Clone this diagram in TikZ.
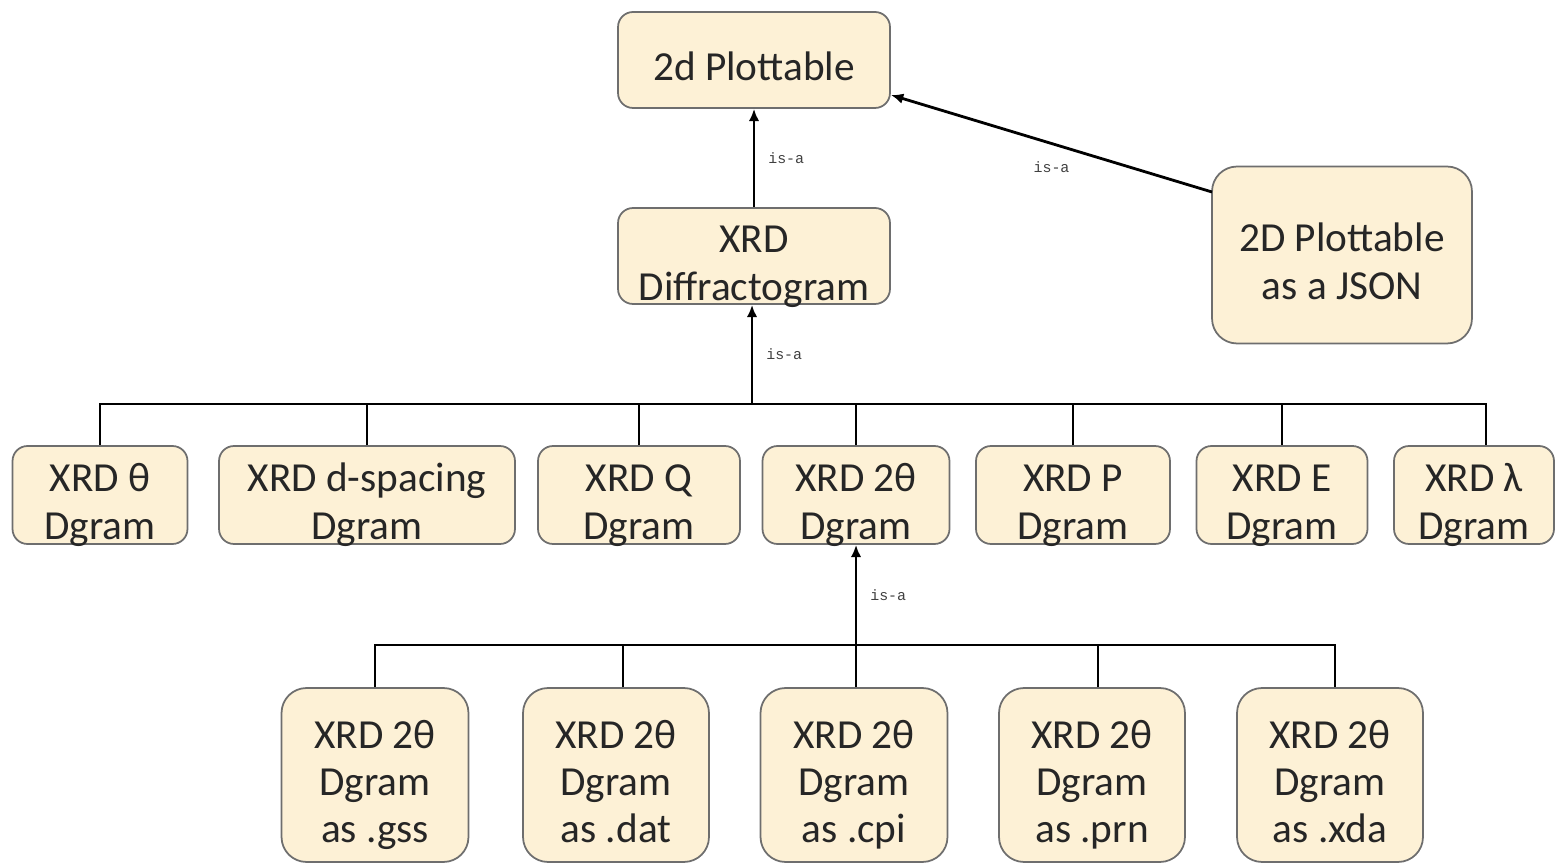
\documentclass[tikz,border=0pt]{standalone}
\usepackage{fontspec}
\setmainfont{Carlito}
\newfontfamily\isafont{Liberation Mono}
\usetikzlibrary{arrows.meta, calc}

\definecolor{boxfill}{HTML}{FDF1D6}
\definecolor{boxline}{HTML}{6E6E6E}
\definecolor{txt}{HTML}{262626}

% box text, set a little low as in the original
\newcommand{\boxtext}[1]{\raisebox{-0.22cm}[\height][\depth]{\begin{tabular}{@{}c@{}}#1\end{tabular}}}

\tikzset{
    dbox/.style={draw=boxline, fill=boxfill, rounded corners=0.3cm, line width=1pt,
        text=txt, font=\fontsize{23.5}{27}\selectfont, inner sep=0pt},
    isa/.style={font=\isafont\fontsize{8.5}{9}\selectfont, text=black!75},
    link/.style={line width=1.6pt, -{Latex[length=7pt, width=6pt]}},
    tree/.style={line width=1.6pt}
}

\begin{document}
\begin{tikzpicture}[x=0.02cm, y=-0.02cm]
    \useasboundingbox (0,0) rectangle (1556,864);

    % top
    \node[dbox, minimum width=5.44cm, minimum height=1.92cm] (plot) at (754,60) {\boxtext{2d Plottable}};
    \node[dbox, minimum width=5.44cm, minimum height=1.92cm] (diff) at (754,256) {\boxtext{XRD\\Diffractogram}};
    \node[dbox, minimum width=5.2cm, minimum height=3.54cm, rounded corners=0.5cm] (json) at (1342,255) {\boxtext{2D Plottable\\as a JSON}};

    % second row
    \node[dbox, minimum width=3.5cm, minimum height=1.96cm] (theta) at (100,495) {\boxtext{XRD θ\\Dgram}};
    \node[dbox, minimum width=5.92cm, minimum height=1.96cm] (dsp) at (367,495) {\boxtext{XRD d-spacing\\Dgram}};
    \node[dbox, minimum width=4.04cm, minimum height=1.96cm] (q) at (639,495) {\boxtext{XRD Q\\Dgram}};
    \node[dbox, minimum width=3.74cm, minimum height=1.96cm] (tth) at (856,495) {\boxtext{XRD 2θ\\Dgram}};
    \node[dbox, minimum width=3.88cm, minimum height=1.96cm] (p) at (1073,495) {\boxtext{XRD P\\Dgram}};
    \node[dbox, minimum width=3.42cm, minimum height=1.96cm] (e) at (1282,495) {\boxtext{XRD E\\Dgram}};
    \node[dbox, minimum width=3.2cm, minimum height=1.96cm] (lam) at (1474,495) {\boxtext{XRD λ\\Dgram}};

    % third row
    \node[dbox, minimum width=3.74cm, minimum height=3.48cm, rounded corners=0.5cm] (gss) at (375,775) {\boxtext{XRD 2θ\\Dgram\\as .gss}};
    \node[dbox, minimum width=3.72cm, minimum height=3.48cm, rounded corners=0.5cm] (dat) at (616,775) {\boxtext{XRD 2θ\\Dgram\\as .dat}};
    \node[dbox, minimum width=3.74cm, minimum height=3.48cm, rounded corners=0.5cm] (cpi) at (854,775) {\boxtext{XRD 2θ\\Dgram\\as .cpi}};
    \node[dbox, minimum width=3.72cm, minimum height=3.48cm, rounded corners=0.5cm] (prn) at (1092,775) {\boxtext{XRD 2θ\\Dgram\\as .prn}};
    \node[dbox, minimum width=3.72cm, minimum height=3.48cm, rounded corners=0.5cm] (xda) at (1330,775) {\boxtext{XRD 2θ\\Dgram\\as .xda}};

    % is-a links
    \draw[link] (diff.north) -- node[isa, right=4pt] {is-a} (plot.south);
    \coordinate (jsonout) at (1212,192);
    \coordinate (jsonin) at (891,95);
    \draw[link] (jsonout) -- node[isa, below=6pt] {is-a} (jsonin);

    % second row tree
    \coordinate (bar1) at (752,404);
    \coordinate (lamtop) at ($(lam.north)+(12,0)$);
    \draw[tree] (theta.north) |- (bar1) -| (lamtop);
    \foreach \n in {dsp, q, tth, p, e}
        \draw[tree] (\n.north) -- (\n.north |- bar1);
    \draw[link] (bar1) -- node[isa, right=4pt] {is-a} (diff.south -| bar1);

    % third row tree
    \coordinate (bar2) at (856,645);
    \coordinate (dattop) at ($(dat.north)+(7,0)$);
    \coordinate (prntop) at ($(prn.north)+(6,0)$);
    \coordinate (xdatop) at ($(xda.north)+(5,0)$);
    \draw[tree] (gss.north) |- (bar2) -| (xdatop);
    \foreach \n in {dattop, prntop}
        \draw[tree] (\n) -- (\n |- bar2);
    \draw[tree] (cpi.north -| bar2) -- (bar2);
    \draw[link] (bar2) -- node[isa, right=4pt] {is-a} (tth.south -| bar2);
\end{tikzpicture}
\end{document}
